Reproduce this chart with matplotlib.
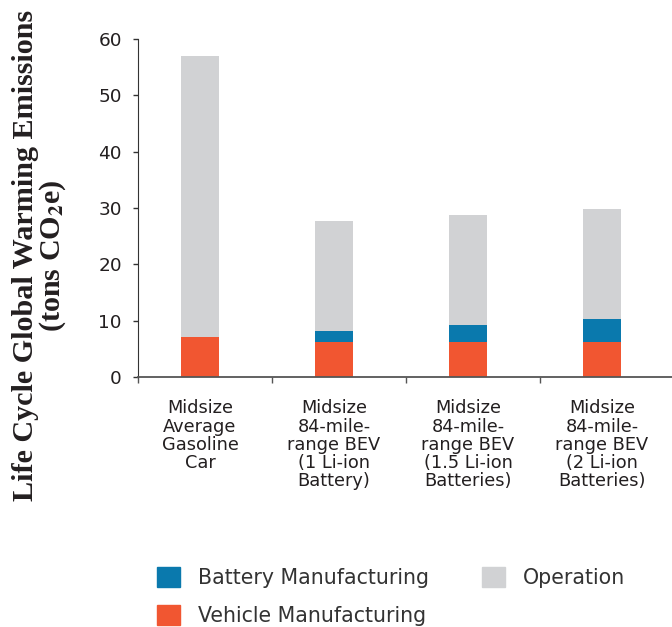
import matplotlib
matplotlib.use("Agg")
import matplotlib.pyplot as plt
from matplotlib.patches import Patch

categories = ["Midsize\nAverage\nGasoline\nCar",
              "Midsize\n84-mile-\nrange BEV\n(1 Li-ion\nBattery)",
              "Midsize\n84-mile-\nrange BEV\n(1.5 Li-ion\nBatteries)",
              "Midsize\n84-mile-\nrange BEV\n(2 Li-ion\nBatteries)"]
vehicle = [7.1, 6.2, 6.2, 6.2]
battery = [0.0, 2.0, 3.0, 4.1]
operation = [49.9, 19.5, 19.6, 19.5]
yticks = [0, 10, 20, 30, 40, 50, 60]

c_bat = "#0A79AD"
c_veh = "#F15631"
c_op = "#D1D2D4"
sans = "DejaVu Sans"
txt = "#231F20"

plt.rcParams['mathtext.fontset'] = 'stix'
fig = plt.figure(figsize=(6.72, 6.27), dpi=100)
ax = fig.add_axes([138/672, 1-377/627, 536/672, (377-39)/627])

x = list(range(len(categories)))
w = 0.277
ax.bar(x, vehicle, w, color=c_veh, zorder=2)
bot2 = vehicle
ax.bar(x, battery, w, bottom=bot2, color=c_bat, zorder=2)
bot3 = [a + b for a, b in zip(vehicle, battery)]
ax.bar(x, operation, w, bottom=bot3, color=c_op, zorder=2)

ax.set_xlim(-0.463, 3.537)
ax.set_ylim(0, 60)
ax.set_yticks(yticks)
ax.set_xticks(x)
ax.set_xticklabels(categories, fontfamily=sans, fontsize=12.8, linespacing=1.02, color=txt)
ax.set_xticks([-0.463, 0.537, 1.537, 2.537], minor=True)
ax.tick_params(axis='x', which='major', length=0, pad=16)
ax.tick_params(axis='x', which='minor', length=4, width=1, color="#555555")
ax.tick_params(axis='y', length=3.6, width=1, color="#333333", pad=8)
for lab in ax.get_yticklabels():
    lab.set_fontfamily(sans)
    lab.set_fontsize(13.3)
    lab.set_color(txt)
for s in ['top', 'right']:
    ax.spines[s].set_visible(False)
ax.spines['left'].set_color("#333333")
ax.spines['bottom'].set_color("#555555")
ax.spines['bottom'].set_linewidth(1.3)

fig.text(0.06, 0.593, "Life Cycle Global Warming Emissions\n(tons CO$_\\mathbf{2}$e)",
         rotation=90, ha='center', va='center', fontfamily="Liberation Serif",
         fontweight='bold', fontsize=21.7, linespacing=0.93, color=txt)

handles = [Patch(color=c_bat, label="Battery Manufacturing"),
           Patch(color=c_veh, label="Vehicle Manufacturing"),
           Patch(color=c_op, label="Operation")]
leg = fig.legend(handles=handles, ncol=2, loc='upper left',
                 bbox_to_anchor=(157/672, 1-567/627), frameon=False,
                 borderpad=0, borderaxespad=0, handlelength=1.12, handleheight=1.12,
                 handletextpad=0.87, columnspacing=2.57, labelspacing=0.85,
                 prop={'family': sans, 'size': 14.8})
for t in leg.get_texts():
    t.set_color("#333333")

fig.savefig("out.png", dpi=100)
